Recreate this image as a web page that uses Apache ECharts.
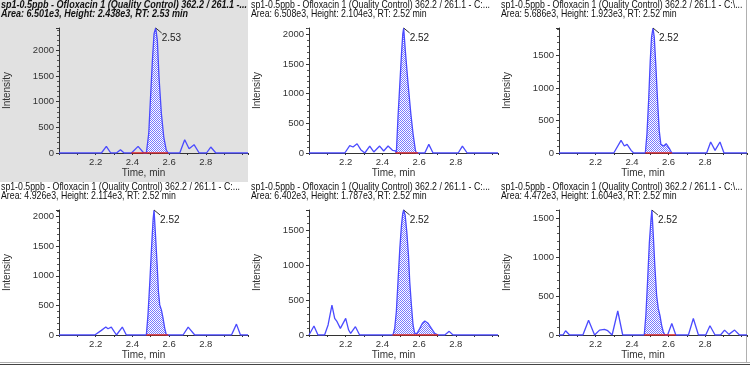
<!DOCTYPE html>
<html><head><meta charset="utf-8">
<script src="https://cdn.jsdelivr.net/npm/echarts@6/dist/echarts.min.js"></script>
<style>html,body{margin:0;padding:0;background:#fff}#c{width:750px;height:365px}</style>
</head><body><div id="c"></div>
<script>
// ---- data ----
const titleLine1 = [
  'sp1-0.5ppb - Ofloxacin 1 (Quality Control) 362.2 / 261.1 -...',
  'sp1-0.5ppb - Ofloxacin 1 (Quality Control) 362.2 / 261.1 - C:...',
  'sp1-0.5ppb - Ofloxacin 1 (Quality Control) 362.2 / 261.1 - C:\\...',
  'sp1-0.5ppb - Ofloxacin 1 (Quality Control) 362.2 / 261.1 - C:...',
  'sp1-0.5ppb - Ofloxacin 1 (Quality Control) 362.2 / 261.1 - C:...',
  'sp1-0.5ppb - Ofloxacin 1 (Quality Control) 362.2 / 261.1 - C:\\...'
];
const areas   = ['6.501e3', '6.508e3', '5.686e3', '4.926e3', '6.402e3', '4.472e3'];
const heights = [2438, 2104, 1923, 2114, 1787, 1604];
const rts     = ['2.53', '2.52', '2.52', '2.52', '2.52', '2.52'];
const apexT   = [2.527, 2.516, 2.515, 2.518, 2.516, 2.509];
const fillStart = [2.476, 2.471, 2.473, 2.476, 2.458, 2.467];
const fillEnd   = [2.595, 2.585, 2.618, 2.585, 2.704, 2.580];
const baseStart = [2.395, 2.471, 2.473, 2.476, 2.455, 2.467];
const baseEnd   = [2.595, 2.595, 2.620, 2.595, 2.704, 2.640];
const xTickLabels = [2.2, 2.4, 2.6, 2.8];

const t1 = [2.000,2.231,2.258,2.282,2.313,2.335,2.355,2.395,2.431,2.462,2.476,2.489,2.498,2.509,2.518,2.527,2.536,2.545,2.558,2.571,2.585,2.595,2.658,2.685,2.709,2.736,2.764,2.804,2.827,2.855,3.030];
const v1 = [0,0,130,0,0,65,0,0,130,0,0,377,1026,1805,2325,2438,2195,1481,766,312,52,0,0,260,84,162,0,0,117,0,0];

const t2 = [2.000,2.195,2.222,2.240,2.262,2.282,2.304,2.331,2.353,2.385,2.407,2.431,2.455,2.471,2.476,2.485,2.495,2.504,2.511,2.516,2.525,2.540,2.555,2.567,2.580,2.585,2.631,2.653,2.676,2.813,2.836,2.862,3.030];
const v2 = [0,0,123,101,156,56,0,117,17,117,34,117,45,34,0,603,1162,1665,2000,2104,1721,1162,659,324,45,0,0,145,0,0,117,0,0];

const t3 = [2.000,2.300,2.340,2.358,2.373,2.395,2.409,2.473,2.482,2.491,2.500,2.507,2.515,2.522,2.531,2.540,2.549,2.558,2.573,2.587,2.596,2.605,2.618,2.809,2.831,2.855,2.882,2.904,3.030];
const v3 = [0,0,195,108,133,41,0,0,297,809,1423,1782,1923,1782,1321,809,348,133,108,143,133,67,0,0,169,41,169,0,0];

const t4 = [2.000,2.195,2.231,2.255,2.267,2.285,2.313,2.345,2.367,2.476,2.485,2.495,2.504,2.513,2.518,2.525,2.535,2.542,2.549,2.558,2.567,2.576,2.585,2.676,2.704,2.740,2.940,2.967,2.989,3.030];
const v4 = [0,0,78,134,106,134,0,134,0,0,341,900,1459,1962,2114,1738,1180,732,509,425,285,117,0,0,134,0,0,184,0,0];

const t5 = [2.000,2.007,2.027,2.049,2.085,2.104,2.125,2.140,2.153,2.171,2.200,2.216,2.227,2.253,2.276,2.458,2.467,2.476,2.485,2.495,2.504,2.511,2.516,2.524,2.533,2.542,2.549,2.558,2.567,2.576,2.589,2.604,2.618,2.631,2.649,2.667,2.685,2.704,2.740,2.764,2.785,3.030];
const v5 = [0,0,129,0,0,143,428,238,190,95,238,71,24,119,0,0,95,333,762,1238,1571,1738,1787,1714,1476,1143,762,428,143,24,24,95,167,200,167,95,24,0,0,52,0,0];

const t6 = [2.000,2.022,2.036,2.058,2.131,2.162,2.195,2.222,2.249,2.267,2.291,2.322,2.349,2.467,2.476,2.485,2.495,2.504,2.509,2.516,2.525,2.535,2.544,2.553,2.562,2.571,2.580,2.595,2.618,2.640,2.709,2.736,2.764,2.804,2.827,2.855,2.885,2.907,2.931,2.962,2.989,3.030];
const v6 = [0,0,55,0,0,190,0,63,72,55,0,308,0,0,253,676,1183,1479,1604,1310,887,507,338,253,127,42,0,0,148,0,0,211,0,0,118,0,0,63,8,63,0,0];

const times = [t1, t2, t3, t4, t5, t6];
const vals  = [v1, v2, v3, v4, v5, v6];

// ---- chart ----
const FONT = "'Liberation Sans', Arial, sans-serif";
const pc = document.createElement('canvas');
pc.width = 2; pc.height = 2;
const pctx = pc.getContext('2d');
pctx.fillStyle = '#ffffff'; pctx.fillRect(0, 0, 2, 2);
pctx.fillStyle = '#7a7aff'; pctx.fillRect(0, 0, 1, 1); pctx.fillRect(1, 1, 1, 1);

// horizontal condensation of header text to match the reference widths
const mc = document.createElement('canvas').getContext('2d');
mc.font = "10.5px 'Liberation Sans'";
const scaleN = 239 / mc.measureText(titleLine1[1]).width;
mc.font = "italic bold 10.5px 'Liberation Sans'";
const scaleB = 246 / mc.measureText(titleLine1[0]).width;

const grids = [], xAxes = [], yAxes = [], series = [], graphics = [];
graphics.push({ type: 'rect', shape: { x: 0, y: 0, width: 248, height: 182 }, style: { fill: '#e1e1e1' }, z: -10 });
for (let i = 0; i < 6; i++) {
  const col = i % 3, row = Math.floor(i / 3);
  const ox = col * 250, oy = row * 182;
  grids.push({ left: ox + 59, top: oy + 28, width: 189, height: 125 });
  const line2 = 'Area: ' + areas[i] + ', Height: ' + (heights[i] / 1000).toFixed(3) + 'e3, RT: ' + rts[i] + ' min';
  const sc = i === 0 ? scaleB : scaleN;
  const tstyle = { fontFamily: FONT, fontSize: 10.5, fill: '#111', verticalAlign: 'top', align: 'left',
    fontWeight: i === 0 ? 'bold' : 'normal', fontStyle: i === 0 ? 'italic' : 'normal' };
  graphics.push({ type: 'text', x: ox + 1, y: oy + 0, scaleX: sc, style: Object.assign({ text: titleLine1[i] }, tstyle), z: 10 });
  graphics.push({ type: 'text', x: ox + 1, y: oy + 9, scaleX: sc, style: Object.assign({ text: line2 }, tstyle), z: 10 });
  xAxes.push({
    gridIndex: i, type: 'value', min: 2.0, max: 3.03, interval: 0.1,
    name: 'Time, min', nameLocation: 'middle', nameGap: 14,
    nameTextStyle: { fontFamily: FONT, fontSize: 10, color: '#333', padding: [0, 20, 0, 0] },
    axisLine: { show: true, lineStyle: { color: '#333', width: 1 } },
    axisTick: { show: true, length: 2, lineStyle: { color: '#333' } },
    splitLine: { show: false },
    axisLabel: { fontFamily: FONT, fontSize: 9.5, color: '#333', margin: 4,
      formatter: v => { const k = Math.round(v * 10) / 10; return xTickLabels.some(x => Math.abs(x - v) < 1e-6) ? k.toFixed(1) : ''; } }
  });
  yAxes.push({
    gridIndex: i, type: 'value', min: 0, max: heights[i], interval: 500,
    name: 'Intensity', nameLocation: 'middle', nameGap: 47,
    nameTextStyle: { fontFamily: FONT, fontSize: 10, color: '#333' },
    axisLine: { show: true, lineStyle: { color: '#333', width: 1 } },
    axisTick: { show: true, length: 3, lineStyle: { color: '#333' } },
    minorTick: { show: true, splitNumber: 5, length: 2, lineStyle: { color: '#555' } },
    splitLine: { show: false },
    axisLabel: { fontFamily: FONT, fontSize: 9.5, color: '#333', margin: 5,
      formatter: v => (Math.abs(v % 500) < 1e-6 ? String(v) : '') }
  });
  const pts = times[i].map((t, j) => [t, vals[i][j]]);
  const fillPts = pts.filter(p => p[0] >= fillStart[i] - 1e-9 && p[0] <= fillEnd[i] + 1e-9);
  series.push({
    type: 'line', xAxisIndex: i, yAxisIndex: i, data: fillPts, showSymbol: false, silent: true,
    lineStyle: { width: 0 }, areaStyle: { color: { image: pc, repeat: 'repeat' }, opacity: 1 }, z: 1
  });
  series.push({
    type: 'line', xAxisIndex: i, yAxisIndex: i, data: pts, showSymbol: false, silent: true,
    lineStyle: { color: '#4a4aff', width: 1.3 }, z: 3
  });
  series.push({
    type: 'line', xAxisIndex: i, yAxisIndex: i, data: [[baseStart[i], 0], [baseEnd[i], 0]],
    showSymbol: false, silent: true, lineStyle: { color: '#e02424', width: 1.5 }, z: 4
  });
  series.push({
    type: 'custom', xAxisIndex: i, yAxisIndex: i, data: [[apexT[i], heights[i]]], silent: true, z: 5,
    renderItem: (function (lbl) {
      return function (params, api) {
        const p = api.coord([api.value(0), api.value(1)]);
        return { type: 'group', children: [
          { type: 'line', shape: { x1: p[0], y1: p[1], x2: p[0] + 6, y2: p[1] + 5 }, style: { stroke: '#333', lineWidth: 1 } },
          { type: 'text', x: p[0] + 6, y: p[1] + 10, style: { text: lbl, fontFamily: FONT, fontSize: 10, fill: '#222', verticalAlign: 'middle', align: 'left' } }
        ] };
      };
    })(rts[i])
  });
}
graphics.push({ type: 'line', shape: { x1: 746.5, y1: 0, x2: 746.5, y2: 362 }, style: { stroke: '#b0b0b0', lineWidth: 1 } });
graphics.push({ type: 'line', shape: { x1: 0, y1: 362.5, x2: 750, y2: 362.5 }, style: { stroke: '#b0b0b0', lineWidth: 1 } });
graphics.push({ type: 'line', shape: { x1: 0, y1: 364.5, x2: 750, y2: 364.5 }, style: { stroke: '#444', lineWidth: 1 } });

const chart = echarts.init(document.getElementById('c'), null, { renderer: 'canvas' });
chart.setOption({
  animation: false,
  backgroundColor: '#ffffff',
  graphic: graphics,
  grid: grids,
  xAxis: xAxes,
  yAxis: yAxes,
  series: series
});
</script></body></html>
